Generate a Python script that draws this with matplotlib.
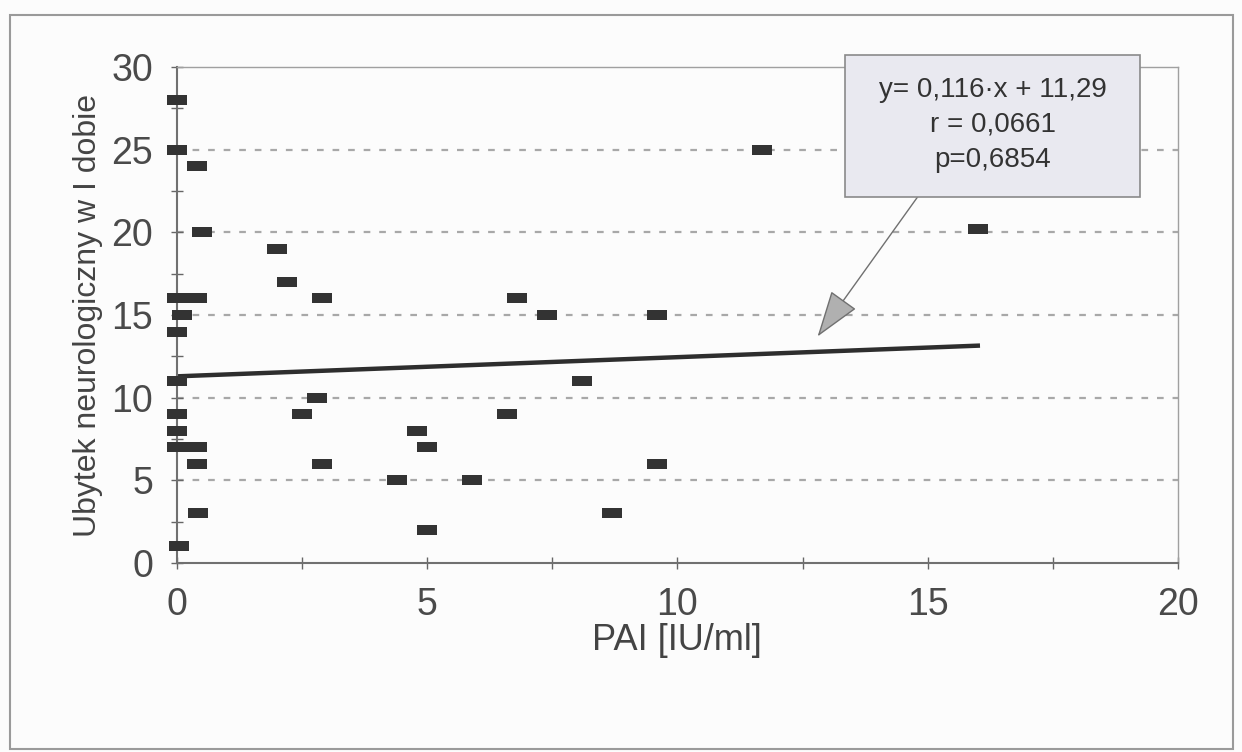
import matplotlib.pyplot as plt
from matplotlib.patches import Rectangle
from matplotlib.ticker import MultipleLocator

# PAI level vs neurological deficit on day 1
pai = [0, 0, 0, 0.2, 0.4, 0, 0, 0, 0, 0, 0, 0.4, 0.04,
       0.1, 0.4, 0.5, 0.4, 0.42,
       2.0, 2.2, 2.9, 2.8, 2.5, 2.9, 4.8, 5.0, 4.4, 5.0,
       6.8, 7.4, 9.6, 8.1, 6.6, 5.9, 9.6, 8.7, 11.7, 16.0]
deficit = [28, 25, 16, 16, 16, 14, 11, 9, 8, 7, 7, 7, 1,
           15, 24, 20, 6, 3,
           19, 17, 16, 10, 9, 6, 8, 7, 5, 2,
           16, 15, 15, 11, 9, 5, 6, 3, 25, 20.2]

slope = 0.116
intercept = 11.29
stats_text = "y= 0,116·x + 11,29\nr = 0,0661\np=0,6854"

plt.rcParams['font.family'] = ['Liberation Sans', 'DejaVu Sans']

fig = plt.figure(figsize=(12.42, 7.52), dpi=100, facecolor='#fcfcfc')
ax = fig.add_axes([0.1423, 0.2513, 0.8062, 0.6596], facecolor='#fcfcfc')

# page frame
fig.patches.append(Rectangle((10 / 1242, 3 / 752), 1223 / 1242, 734 / 752,
                             transform=fig.transFigure, fill=False,
                             edgecolor='#9a9a9a', linewidth=1.5))

ax.set_xlim(0, 20)
ax.set_ylim(0, 30)

for y in [5, 10, 15, 20, 25]:
    ax.axhline(y, color='#a8a8a8', linewidth=1.6, linestyle=(0, (3, 4)), zorder=1)

rect = [(-1, -0.52), (1, -0.52), (1, 0.52), (-1, 0.52), (-1, -0.52)]
ax.plot(pai, deficit, linestyle='none', marker=rect, markersize=13.7,
        color='#333333', markeredgewidth=0, zorder=3, clip_on=False)

xs = [0, max(pai)]
ax.plot(xs, [intercept + slope * x for x in xs], color='#2e2e2e', linewidth=3.2, zorder=2)

ax.xaxis.set_major_locator(MultipleLocator(5))
ax.xaxis.set_minor_locator(MultipleLocator(2.5))
ax.yaxis.set_major_locator(MultipleLocator(5))
ax.yaxis.set_minor_locator(MultipleLocator(2.5))
ax.tick_params(which='both', direction='inout', length=8, width=1, color='#666666')
ax.tick_params(which='major', labelsize=27, labelcolor='#4a4a4a', pad=13)

for side in ['left', 'bottom']:
    ax.spines[side].set_color('#707070')
    ax.spines[side].set_linewidth(1.5)
for side in ['top', 'right']:
    ax.spines[side].set_color('#a0a0a0')
    ax.spines[side].set_linewidth(1)

ax.set_xlabel('PAI [IU/ml]', fontsize=26, color='#444444', labelpad=0)
ax.set_ylabel('Ubytek neurologiczny w I dobie', fontsize=23, color='#444444', labelpad=6)

# regression stats box with arrow to the line
ax.add_patch(Rectangle((13.35, 22.15), 5.9, 8.6, facecolor='#e9e9f0',
                       edgecolor='#8a8a8a', linewidth=1.2, zorder=5, clip_on=False))
ax.text(16.3, 26.5, stats_text, ha='center', va='center', fontsize=20,
        color='#333333', linespacing=1.45, zorder=6)
ax.annotate('', xy=(12.8, 13.7), xytext=(14.8, 22.15),
            arrowprops=dict(arrowstyle='-|>,head_length=1.5,head_width=0.5',
                            mutation_scale=20, facecolor='#b0b0b0',
                            edgecolor='#707070', linewidth=1, shrinkA=0, shrinkB=0),
            zorder=4)

fig.savefig('out.png', dpi=100, facecolor=fig.get_facecolor())
